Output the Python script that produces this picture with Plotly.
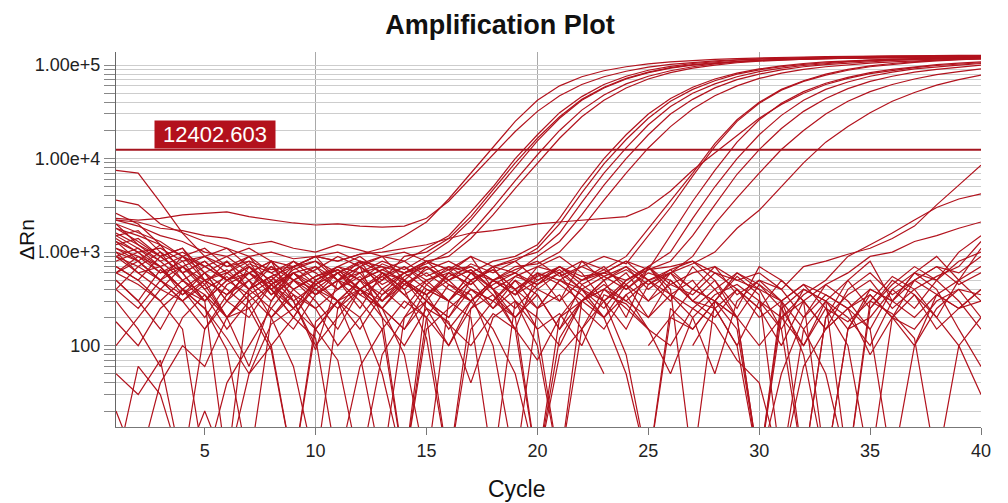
import math
import plotly.graph_objects as go

# ---------------- data ----------------
cycles = list(range(1, 41))
threshold = 12402.603
threshold_label = "12402.603"
x_tick_vals = [5, 10, 15, 20, 25, 30, 35, 40]
x_tick_labels = ["5", "10", "15", "20", "25", "30", "35", "40"]
y_label_vals = [100, 1000, 10000, 100000]
y_label_texts = ["100", "1.00e+3", "1.00e+4", "1.00e+5"]

# early amplifiers
a1 = [3600, 3200, 2000, 1600, 1300, 1100, 900, 1000, 850, 900, 800, 950, 1100, 1500, 2100, 3700, 7000, 13500, 25000, 42000, 60000, 75000, 87000, 96000, 103000, 108000, 112000, 115000, 117500, 119500, 121000, 122000, 123000, 124000, 125000, 125500, 126000, 126500, 127000, 127500]
a2 = [2300, 2200, 2300, 2500, 2600, 2700, 2400, 2200, 2050, 1950, 2000, 1900, 1850, 1900, 2300, 3500, 6200, 11000, 19500, 32000, 47000, 62000, 75000, 86000, 95000, 102000, 107000, 111000, 114000, 117000, 119000, 120500, 122000, 123000, 124000, 124500, 125000, 125500, 126000, 126500]
a3 = [1800, 1500, 1200, 900, 700, 500, 600, 450, 700, 800, 600, 750, 900, 800, 1100, 1500, 2700, 5000, 10000, 18000, 31000, 46000, 62000, 76000, 88000, 97000, 104000, 109000, 113000, 116000, 118000, 120000, 121000, 122000, 123000, 123500, 124000, 124500, 125000, 125000]
a4 = [1200, 1400, 900, 1100, 600, 800, 400, 700, 500, 650, 900, 700, 500, 900, 1000, 1400, 2400, 4600, 9000, 16500, 28000, 43000, 58000, 72000, 84000, 94000, 101000, 106000, 110000, 113000, 115000, 117000, 118000, 119000, 120000, 121000, 121500, 122000, 122500, 123000]
a5 = [900, 700, 1000, 500, 300, 600, 800, 350, 600, 450, 700, 600, 800, 650, 900, 1300, 2200, 4200, 8200, 15500, 27000, 42000, 57000, 71000, 83000, 93000, 100000, 105000, 109000, 112000, 114000, 116000, 117500, 118500, 119500, 120000, 120500, 121000, 121500, 122000]
a6 = [2200, 1900, 1500, 1300, 1000, 900, 1100, 800, 700, 900, 1000, 800, 700, 600, 750, 1000, 1600, 3000, 5800, 11000, 20000, 33000, 48000, 63000, 76000, 87000, 96000, 103000, 108000, 112000, 115000, 117000, 118500, 120000, 121000, 122000, 122500, 123000, 123500, 124000]
a7 = [600, 900, 700, 400, 600, 300, 500, 700, 400, 550, 650, 500, 750, 600, 800, 900, 1400, 2500, 4800, 9000, 16500, 28000, 42000, 57000, 71000, 83000, 93000, 100000, 106000, 110000, 113000, 115500, 117000, 118500, 119500, 120500, 121000, 121500, 122000, 122500]

# middle amplifiers
b1 = [1500, 1100, 800, 1000, 700, 500, 750, 600, 400, 550, 700, 500, 650, 800, 550, 700, 600, 800, 900, 1200, 2300, 5000, 10000, 18000, 30000, 44000, 58000, 71000, 82000, 91000, 98000, 104000, 108000, 111000, 114000, 116000, 117500, 119000, 120000, 121000]
b2 = [800, 1000, 600, 700, 450, 800, 500, 300, 600, 700, 500, 800, 400, 600, 700, 500, 750, 600, 800, 1100, 2000, 4300, 8800, 16000, 27000, 41000, 55000, 68000, 80000, 89000, 96000, 102000, 106000, 110000, 113000, 115000, 117000, 118500, 119500, 120500]
b3 = [2000, 1600, 1300, 900, 1100, 700, 900, 600, 800, 500, 700, 900, 600, 500, 800, 650, 900, 700, 850, 1000, 1600, 3400, 7000, 13000, 23000, 36000, 50000, 63000, 75000, 85000, 93000, 99000, 104000, 108000, 111000, 113500, 115500, 117000, 118000, 119000]
b4 = [400, 700, 500, 300, 500, 650, 400, 550, 300, 450, 600, 400, 550, 700, 500, 600, 450, 700, 600, 900, 1300, 2500, 5200, 10000, 18000, 30000, 43000, 57000, 70000, 80000, 89000, 96000, 101000, 105000, 109000, 112000, 114000, 116000, 117000, 118000]
b5 = [1000, 800, 1200, 600, 800, 500, 700, 400, 650, 800, 500, 600, 700, 450, 650, 800, 600, 500, 700, 750, 1000, 1800, 3600, 7000, 13000, 22000, 34000, 47000, 60000, 72000, 82000, 90000, 96000, 101000, 105000, 108000, 111000, 113000, 115000, 116000]

# late amplifiers
c1 = [1600, 1200, 900, 600, 800, 500, 700, 400, 600, 350, 500, 700, 450, 600, 800, 500, 650, 400, 550, 700, 600, 800, 650, 900, 1800, 3500, 7000, 14500, 26000, 40000, 55000, 68000, 80000, 90000, 98000, 104000, 109000, 113000, 116000, 119000]
c2 = [700, 500, 900, 600, 300, 500, 700, 400, 250, 500, 650, 400, 300, 550, 700, 450, 300, 500, 650, 800, 550, 700, 900, 750, 1500, 3000, 6500, 13500, 25000, 39000, 54000, 67000, 78000, 88000, 96000, 102000, 107000, 111000, 114000, 117000]
c3 = [1300, 1000, 1100, 800, 900, 700, 800, 650, 700, 900, 800, 950, 1000, 1100, 1200, 1400, 1600, 1700, 1850, 2000, 2100, 2200, 2300, 2400, 3000, 4500, 7500, 11500, 18000, 27000, 38000, 50000, 62000, 72000, 81000, 88000, 94000, 99000, 103000, 106000]
c4 = [500, 300, 650, 400, 200, 450, 600, 350, 500, 300, 150, 400, 550, 350, 500, 650, 400, 300, 550, 450, 700, 500, 600, 800, 650, 1500, 3500, 7500, 15000, 26000, 39000, 52000, 64000, 74000, 83000, 90000, 96000, 101000, 105000, 108000]
c5 = [900, 600, 400, 700, 500, 350, 600, 800, 500, 400, 600, 350, 500, 700, 450, 300, 500, 650, 400, 550, 700, 500, 650, 450, 700, 1000, 2300, 5000, 10000, 18000, 29000, 42000, 55000, 66000, 76000, 84000, 91000, 96000, 100000, 104000]
c6 = [1100, 800, 500, 700, 900, 600, 400, 550, 700, 450, 300, 500, 650, 500, 350, 550, 700, 500, 400, 600, 500, 700, 550, 400, 650, 800, 1500, 3200, 6800, 12500, 21000, 32000, 44000, 56000, 67000, 76000, 84000, 90000, 95000, 100000]
c7 = [400, 250, 500, 350, 600, 400, 250, 450, 600, 350, 500, 400, 250, 450, 600, 400, 300, 500, 350, 600, 450, 300, 500, 650, 450, 600, 900, 2000, 3800, 7000, 12500, 20000, 30000, 41000, 52000, 62000, 71000, 79000, 85000, 91000]
c8 = [600, 450, 300, 500, 350, 200, 400, 550, 350, 250, 400, 550, 300, 450, 350, 500, 650, 400, 250, 450, 600, 400, 550, 700, 500, 600, 750, 1000, 1800, 2800, 5000, 9000, 15000, 22000, 31000, 41000, 51000, 61000, 70000, 78000]

# curves just starting to rise at the end
l1 = [600, 800, 500, 300, 450, 200, 350, 500, 250, 400, 300, 150, 350, 500, 300, 200, 400, 250, 500, 350, 150, 300, 450, 300, 500, 650, 400, 700, 500, 600, 400, 700, 800, 950, 1100, 1400, 1900, 3200, 5200, 8500]
l2 = [1100, 900, 600, 800, 400, 550, 300, 450, 600, 400, 250, 500, 350, 600, 400, 300, 500, 650, 400, 250, 500, 350, 200, 450, 300, 600, 400, 300, 150, 5, 200, 350, 500, 900, 1200, 1600, 2200, 3000, 3700, 4200]
l3 = [1400, 1000, 700, 900, 500, 350, 600, 400, 200, 450, 600, 350, 250, 500, 350, 150, 300, 450, 600, 400, 300, 500, 700, 400, 600, 500, 300, 200, 400, 250, 100, 300, 450, 600, 900, 1000, 1300, 1500, 1800, 2100]

# non-amplifying wells (baseline noise)
n1 = [7500, 7000, 3400, 1600, 900, 1100, 700, 500, 800, 600, 400, 700, 900, 500, 300, 600, 450, 700, 800, 500, 650, 400, 300, 500, 700, 450, 350, 600, 400, 250, 500, 300, 150, 400, 600, 350, 500, 700, 450, 600]
n2 = [2600, 2000, 1200, 600, 300, 5, 400, 800, 300, 90, 500, 700, 200, 5, 350, 600, 900, 400, 150, 600, 300, 800, 500, 200, 700, 400, 5, 300, 600, 400, 150, 5, 200, 500, 800, 300, 600, 900, 500, 1100]
n3 = [1800, 1300, 900, 1100, 500, 200, 60, 300, 700, 900, 500, 250, 600, 400, 120, 5, 250, 500, 350, 700, 900, 600, 300, 150, 450, 650, 800, 500, 200, 5, 300, 450, 250, 100, 5, 200, 500, 700, 600, 900]
n4 = [1500, 1700, 1000, 700, 400, 200, 250, 90, 5, 150, 300, 400, 200, 100, 250, 180, 40, 200, 300, 150, 220, 100, 350, 280, 150, 50, 200, 350, 450, 300, 200, 100, 250, 180, 300, 220, 120, 5, 100, 200]
n5 = [1300, 800, 500, 900, 600, 300, 700, 400, 200, 500, 300, 80, 5, 200, 450, 700, 500, 250, 400, 150, 5, 300, 500, 700, 400, 600, 300, 500, 250, 700, 500, 300, 5, 150, 400, 300, 600, 400, 150, 60]
n6 = [500, 300, 150, 400, 250, 90, 5, 200, 350, 150, 300, 500, 250, 150, 300, 200, 500, 700, 300, 100, 5, 150, 300, 450, 200, 350, 500, 250, 100, 300, 150, 400, 300, 5, 250, 500, 350, 200, 500, 700]
n7 = [100, 200, 400, 300, 150, 350, 500, 200, 60, 5, 250, 400, 600, 350, 200, 5, 150, 300, 200, 400, 600, 250, 150, 350, 500, 300, 700, 400, 200, 450, 250, 100, 300, 500, 250, 450, 700, 500, 800, 1000]
n8 = [50, 30, 70, 5, 150, 300, 200, 450, 300, 100, 200, 400, 250, 80, 5, 300, 600, 400, 200, 350, 150, 450, 300, 80, 5, 200, 400, 300, 550, 350, 5, 150, 300, 200, 100, 300, 500, 350, 250, 400]
n9 = [20, 5, 40, 100, 60, 200, 400, 250, 150, 350, 500, 300, 150, 5, 200, 450, 350, 100, 5, 250, 500, 400, 200, 350, 150, None, 100, 250, 400, 200, 300, 150, 50, 5, 300, 550, 400, 200, 100, 30]
n10 = [900, 1100, 700, 400, 250, 120, 50, 170, 250, 150, 70, 5, 80, 200, 300, 170, 100, 220, 150, 70, 200, 300, 400, 250, 150, 100, 250, 170, 70, 40, 5, 60, 150, 250, 350, 200, 150, 300, 400, 350]
n11 = [700, 500, 300, 150, 5, 40, 100, 250, 500, 700, 400, 600, 300, 500, 250, 100, 300, 150, 50, 5, 200, 400, 250, 500, 700, 350, 200, 50, 300, 500, 400, 200, 450, 300, 150, 5, 100, 350, 500, 300]
n12 = [2200, 2100, 1800, 1700, 1500, 1400, 1200, 1300, 1100, 1000, 1200, 1050, 900, 1000, 800, 650, 700, 500, 600, 450, 700, 550, 600, 500, 650, 700, 800, 600, 500, 400, 300, 450, 350, 250, 400, 300, 200, 350, 250, 300]
n13 = [1000, 600, 700, 350, 500, 600, 900, 450, 250, 500, 650, 400, 250, 150, 400, 300, 600, 350, 150, 5, 120, 300, 400, 600, 300, 450, 600, 700, 350, 500, 300, 80, 5, 150, 200, 400, 600, 500, 1000, 1500]
n14 = [300, 150, 60, 200, 350, 150, 300, 100, 5, 180, 300, 200, 400, 250, 500, 300, 200, 5, 300, 200, 100, 300, 200, 50, 5, 250, 150, 300, 200, 100, 200, 300, 150, 250, 80, 200, 350, 150, 250, 400]
n15 = [5, 60, 30, 5, 20, 5, 50, 100, 200, 120, 5, 60, 150, 300, 200, 100, 250, 350, 200, 5, 80, 150, 50, None, 100, 200, 150, 300, 200, 5, 50, 200, 350, 250, 150, 400, 250, 500, 300, 150]
n16 = [2000, 1200, 800, 500, 700, 900, 600, 800, 500, 350, 600, 800, 600, 400, 700, 500, 300, 500, 350, 500, 700, 450, 600, 800, 500, 350, 250, 400, 600, 450, 300, 5, 200, 350, 500, 250, 400, 550, 700, 1300]
n17 = [180, 100, 250, 400, 300, 500, 350, 200, 400, 250, 100, 200, 50, 5, 150, 250, 400, 300, 500, 250, 350, 150, 400, 300, 200, 500, 300, 250, 100, 5, 250, 400, 300, 150, 350, 200, 100, 250, 400, 200]

wells = [n1, n2, n3, n4, n5, n6, n7, n8, n9, n10, n11, n12, n13, n14, n15, n16, n17,
         l1, l2, l3, c1, c2, c3, c4, c5, c6, c7, c8, b1, b2, b3, b4, b5,
         a1, a2, a3, a4, a5, a6, a7]

# ---------------- styling ----------------
LINE_RED = "#B2121D"
THR_RED = "#A5141F"
FONT = "Liberation Sans, Arial, Helvetica, sans-serif"

fig = go.Figure()
for w in wells:
    fig.add_trace(go.Scatter(x=cycles, y=w, mode="lines",
                             line=dict(color=LINE_RED, width=1.2),
                             connectgaps=False, showlegend=False, hoverinfo="skip"))

fig.add_trace(go.Scatter(x=[cycles[0], cycles[-1]], y=[threshold, threshold], mode="lines",
                         line=dict(color=THR_RED, width=2), showlegend=False, hoverinfo="skip"))

# y ticks: every 1..9 x decade inside range, label only on decades
y_tick_vals, y_tick_text = [], []
for k in range(1, 6):
    for m in range(1, 10):
        v = m * 10 ** k
        if v < 14 or v > 130000:
            continue
        y_tick_vals.append(v)
        y_tick_text.append(y_label_texts[y_label_vals.index(v)] if v in y_label_vals else "")

fig.update_layout(
    width=1008, height=503,
    margin=dict(l=116, r=27, t=52, b=76),
    paper_bgcolor="white", plot_bgcolor="white",
    font=dict(family=FONT, color="#1a1a1a"),
    title=dict(text="<b>Amplification Plot</b>", x=0.496, xref="container", xanchor="center",
               y=1 - 25 / 503, yref="container", yanchor="middle",
               font=dict(size=27, color="#111", family=FONT)),
    xaxis=dict(range=[1, 40], tickmode="array", tickvals=x_tick_vals, ticktext=x_tick_labels,
               ticks="outside", ticklen=7, tickcolor="#777", tickfont=dict(size=18, color="#222"),
               showgrid=False, zeroline=False, showline=True, linecolor="#777", linewidth=1,
               minor=dict(tickmode="array", tickvals=[10, 20, 30, 40], showgrid=True,
                          gridcolor="#A9A9A9", gridwidth=1, ticks="")),
    yaxis=dict(type="log", range=[1.13, 5.14], tickmode="array", tickvals=y_tick_vals,
               ticktext=y_tick_text, ticks="outside", ticklen=11, tickcolor="#888",
               tickfont=dict(size=18, color="#222"),
               showgrid=True, gridcolor="#CDCDCD", gridwidth=1, zeroline=False,
               showline=True, linecolor="#666", linewidth=1),
)

fig.add_annotation(x=2.7, y=math.log10(threshold), xref="x", yref="y",
                   xanchor="left", yanchor="bottom", yshift=1,
                   text=threshold_label, showarrow=False, width=118, align="center",
                   font=dict(size=22, color="white", family=FONT),
                   bgcolor="#B3111C", borderpad=1)

fig.add_annotation(x=(517 - 116) / 865, y=(427 - 489) / 375, xref="paper", yref="paper",
                   text="Cycle", showarrow=False, xanchor="center", yanchor="middle",
                   font=dict(size=23, color="#111", family=FONT))

fig.add_annotation(x=(26 - 116) / 865, y=(427 - 240) / 375, xref="paper", yref="paper",
                   text="ΔRn", textangle=-90, showarrow=False, xanchor="center", yanchor="middle",
                   font=dict(size=21, color="#111", family=FONT), bgcolor="white")

fig.write_html("out.html")
